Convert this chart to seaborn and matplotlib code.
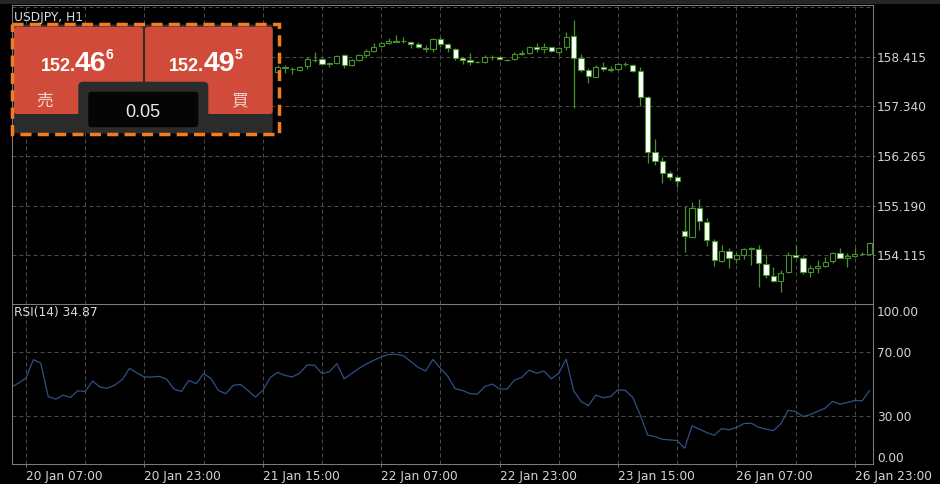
import numpy as np
import pandas as pd
import matplotlib
matplotlib.use("Agg")
import matplotlib.pyplot as plt
import seaborn as sns
from matplotlib.patches import FancyBboxPatch, Rectangle
from matplotlib.transforms import Affine2D

# ---- data (hourly bars, bar 0 = 20 Jan 07:00) ----
candle_start = 34
opens = [158.096, 158.205, 158.160, 158.133, 158.220, 158.357, 158.364, 158.256, 158.278, 158.458,
         158.234, 158.343, 158.458, 158.553, 158.654, 158.712, 158.748, 158.770, 158.748, 158.690,
         158.618, 158.589, 158.806, 158.690, 158.589, 158.386, 158.357, 158.306, 158.306, 158.408,
         158.422, 158.343, 158.364, 158.480, 158.509, 158.632, 158.582, 158.625, 158.531, 158.625,
         158.871, 158.386, 158.133, 157.988, 158.191, 158.147, 158.154, 158.256, 158.241, 158.111,
         157.554, 156.359, 156.156, 155.889, 155.816, 154.636, 154.513, 155.143, 154.839, 154.426,
         153.992, 154.202, 154.028, 154.115, 154.238, 154.253, 153.912, 153.666, 153.558, 153.746,
         154.115, 154.057, 153.746, 153.826, 153.883, 153.985, 154.151, 154.057, 154.093, 154.130,
         154.130]
highs = [158.241, 158.241, 158.205, 158.227, 158.422, 158.516, 158.386, 158.314, 158.458, 158.480,
         158.364, 158.480, 158.582, 158.712, 158.726, 158.820, 158.893, 158.842, 158.762, 158.748,
         158.676, 158.835, 158.842, 158.726, 158.603, 158.408, 158.495, 158.328, 158.458, 158.458,
         158.437, 158.372, 158.531, 158.567, 158.654, 158.712, 158.726, 158.639, 158.639, 158.951,
         159.219, 158.480, 158.169, 158.241, 158.314, 158.220, 158.278, 158.306, 158.256, 158.205,
         157.568, 156.627, 156.251, 155.947, 155.831, 155.179, 155.273, 155.331, 154.911, 154.455,
         154.332, 154.260, 154.166, 154.260, 154.296, 154.332, 154.137, 153.862, 153.789, 154.187,
         154.332, 154.093, 153.898, 154.006, 154.079, 154.187, 154.260, 154.151, 154.260, 154.187,
         154.405]
lows = [158.046, 158.075, 158.046, 158.118, 158.147, 158.314, 158.256, 158.205, 158.263, 158.183,
        158.220, 158.328, 158.408, 158.531, 158.639, 158.697, 158.733, 158.726, 158.603, 158.618,
        158.531, 158.531, 158.625, 158.531, 158.350, 158.256, 158.241, 158.278, 158.292, 158.350,
        158.350, 158.328, 158.350, 158.458, 158.480, 158.531, 158.495, 158.531, 158.458, 158.567,
        157.300, 158.096, 157.858, 157.988, 158.118, 158.096, 158.133, 158.220, 158.096, 157.351,
        156.120, 156.070, 155.686, 155.744, 155.599, 154.187, 154.499, 154.658, 154.311, 153.876,
        153.970, 153.826, 153.934, 154.021, 153.898, 153.413, 153.608, 153.536, 153.319, 153.731,
        154.043, 153.702, 153.645, 153.717, 153.862, 153.934, 154.043, 153.862, 154.064, 154.115,
        154.115]
closes = [158.205, 158.169, 158.154, 158.205, 158.364, 158.350, 158.263, 158.292, 158.444, 158.234,
          158.350, 158.458, 158.553, 158.639, 158.712, 158.770, 158.770, 158.765, 158.697, 158.639,
          158.589, 158.813, 158.697, 158.603, 158.386, 158.350, 158.306, 158.303, 158.408, 158.422,
          158.364, 158.357, 158.480, 158.509, 158.639, 158.589, 158.625, 158.545, 158.610, 158.857,
          158.386, 158.133, 158.002, 158.191, 158.147, 158.140, 158.256, 158.262, 158.111, 157.554,
          156.359, 156.164, 155.889, 155.816, 155.722, 154.528, 155.143, 154.853, 154.441, 154.006,
          154.209, 154.043, 154.115, 154.238, 154.260, 153.934, 153.681, 153.558, 153.731, 154.115,
          154.064, 153.753, 153.826, 153.883, 153.970, 154.151, 154.057, 154.093, 154.137, 154.133,
          154.368]

rsi_start = -2
rsi = [47.9, 50.4, 53.5, 65.0, 62.9, 42.1, 40.4, 42.9, 41.5, 45.6,
       45.2, 51.7, 47.9, 47.1, 49.2, 52.5, 59.6, 56.7, 54.2, 54.2,
       54.6, 52.9, 46.7, 45.2, 52.1, 50.0, 56.3, 53.3, 45.8, 43.8,
       49.0, 49.6, 45.8, 41.7, 45.8, 53.8, 57.1, 55.2, 54.2, 56.7,
       61.7, 61.5, 56.3, 57.5, 62.5, 53.1, 56.3, 59.6, 62.3, 64.6,
       66.7, 68.3, 68.3, 67.5, 63.8, 60.2, 57.9, 65.2, 59.6, 54.6,
       46.9, 45.8, 43.8,
       43.5, 48.3, 49.8, 46.7, 46.7, 52.3, 54.0, 58.5, 56.5, 57.9,
       53.1, 56.5, 65.4, 45.8, 39.0, 36.3, 42.9, 41.3, 42.1, 46.3,
       45.8, 41.5, 30.6, 18.1, 17.1, 15.4, 15.0, 14.6, 9.8, 23.8,
       21.7, 19.6, 17.9, 22.1, 21.3, 22.7, 25.2, 25.4, 22.9, 21.7,
       20.8, 25.0, 33.5, 32.7, 29.6, 30.8, 32.9, 34.8, 39.0, 37.3,
       38.3, 39.6, 39.4, 45.8]

price_ticks = [158.415, 157.340, 156.265, 155.190, 154.115]
price_grid = price_ticks + [159.490]
tick_bars = [0, 16, 32, 48, 64, 80, 96, 112]
tick_labels = ["20 Jan 07:00", "20 Jan 23:00", "21 Jan 15:00", "22 Jan 07:00",
               "22 Jan 23:00", "23 Jan 15:00", "26 Jan 07:00", "26 Jan 23:00"]
rsi_levels = [70, 30]

# ---- style ----
sns.set_theme(style="dark", rc={
    "axes.facecolor": "black", "figure.facecolor": "black",
    "axes.edgecolor": "#7c7c7c", "axes.linewidth": 0.75,
    "text.color": "#d4d4d4", "xtick.color": "#d4d4d4", "ytick.color": "#d4d4d4",
})
plt.rcParams["font.family"] = ["DejaVu Sans"]

GREEN = "#46922a"
GRID = "#4a4a4a"
W, H = 940, 484
LABEL_SIZE = 8.7

fig = plt.figure(figsize=(9.4, 4.84), dpi=100)
px = Affine2D().scale(1 / W, -1 / H).translate(0, 1) + fig.transFigure


def rect(x0, y0, x1, y1):
    return [x0 / W, 1 - y1 / H, (x1 - x0) / W, (y1 - y0) / H]


ax1 = fig.add_axes(rect(11.7, 5, 872.7, 303.5))
ax2 = fig.add_axes(rect(11.7, 303.5, 872.7, 464))
xlim = (-1.93, 114.42)

# ---- grid ----
dash = dict(color=GRID, lw=0.72, ls=(0, (4, 3)), zorder=1)
for k in range(0, 115, 8):
    ax1.axvline(k, **dash)
    ax2.axvline(k, **dash)
for p in price_grid:
    ax1.axhline(p, **dash)
for r in rsi_levels:
    ax2.axhline(r, **dash)

# ---- candles ----
df = pd.DataFrame({"open": opens, "high": highs, "low": lows, "close": closes})
df["bar"] = np.arange(candle_start, candle_start + len(df))
df["bottom"] = df[["open", "close"]].min(axis=1)
df["height"] = (df["close"] - df["open"]).abs().clip(lower=0.004)
fills = np.where(df["close"] >= df["open"], "black", "white")

ax1.vlines(df["bar"], df["low"], df["high"], color=GREEN, lw=0.9, zorder=2)
ax1.bar(df["bar"], df["height"], bottom=df["bottom"], width=0.7, color=fills,
        edgecolor=GREEN, linewidth=0.8, zorder=3)

ax1.set_xlim(*xlim)
ax1.set_ylim(153.062, 159.544)
ax1.set_xticks([])
ax1.yaxis.tick_right()
ax1.set_yticks(price_ticks)
ax1.set_yticklabels([f"{p:.3f}" for p in price_ticks])
ax1.tick_params(axis="y", right=True, length=1.5, width=0.7, color="#7c7c7c",
                pad=1.5, labelsize=LABEL_SIZE, labelcolor="#d4d4d4")

# ---- RSI ----
rdf = pd.DataFrame({"bar": np.arange(rsi_start, rsi_start + len(rsi)), "rsi": rsi})
sns.lineplot(data=rdf, x="bar", y="rsi", ax=ax2, color="#2f5185", linewidth=0.9, zorder=3)
ax2.set_xlabel("")
ax2.set_ylabel("")
ax2.set_xlim(*xlim)
ax2.set_ylim(0, 100)
ax2.yaxis.tick_right()
ax2.set_yticks([4.6, 30, 70, 95.2])
ax2.set_yticklabels(["0.00", "30.00", "70.00", "100.00"])
ax2.tick_params(axis="y", right=True, length=0, pad=3, labelsize=LABEL_SIZE, labelcolor="#d4d4d4")
ax2.set_xticks(tick_bars)
ax2.set_xticklabels(tick_labels, ha="left")
ax2.tick_params(axis="x", bottom=True, length=2.5, width=0.7, color="#7c7c7c",
                pad=1.5, labelsize=LABEL_SIZE, labelcolor="#d4d4d4")

for ax in (ax1, ax2):
    for s in ax.spines.values():
        s.set_visible(True)
        s.set_color("#7c7c7c")
        s.set_linewidth(0.75)
        s.set_zorder(5)

# ---- labels and top bar ----
fig.add_artist(Rectangle((0, 0), W, 3.5, transform=px, color="#262626", lw=0))
fig.text(14, 20.5, "USDJPY, H1", transform=px, fontsize=8.8, color="#dcdcdc", va="baseline")
fig.text(14, 315.7, "RSI(14) 34.87", transform=px, fontsize=8.8, color="#dcdcdc", va="baseline")

# ---- one-click trading panel ----
RED = "#d04b39"
PANEL = "#2b2b2b"


def box(x, y, w, h, r, fc):
    fig.add_artist(FancyBboxPatch((x, y), w, h, boxstyle=f"round,pad=0,rounding_size={r}",
                                  transform=px, fc=fc, ec="none", lw=0))


box(13.5, 24.5, 259.2, 108.8, 2, PANEL)
box(14, 26.7, 129, 87.3, 3, RED)
box(145, 26.7, 127.7, 87.3, 3, RED)
box(78.3, 81.7, 130, 51.6, 5, PANEL)
box(88.3, 91.7, 110, 35.5, 3, "#050505")
fig.add_artist(Rectangle((12, 23.7), 267.2, 110.5, transform=px, fill=False,
                         ec="#f07d22", lw=2.5, ls=(0, (3.2, 1.8))))

big = dict(transform=px, family="Liberation Sans", weight="bold", color="white", va="baseline")
fig.text(75.5, 71, "152.", ha="right", fontsize=13, **big)
fig.text(75, 71, "46", ha="left", fontsize=20.5, **big)
fig.text(106, 59.3, "6", ha="left", fontsize=10, **big)
fig.text(204, 71, "152.", ha="right", fontsize=13, **big)
fig.text(203.5, 71, "49", ha="left", fontsize=20.5, **big)
fig.text(234.5, 59.3, "5", ha="left", fontsize=10, **big)

cjk = dict(transform=px, family=["Noto Sans CJK JP", "DejaVu Sans"], fontsize=12,
           color="#f3d3cc", ha="center", va="baseline")
fig.text(44.3, 105.5, "売", **cjk)
fig.text(239.3, 105.5, "買", **cjk)
fig.text(143, 116.7, "0.05", transform=px, family="Liberation Sans", fontsize=13,
         color="#ececec", ha="center", va="baseline")

fig.savefig("out.png", dpi=100, facecolor="black")
plt.close(fig)
